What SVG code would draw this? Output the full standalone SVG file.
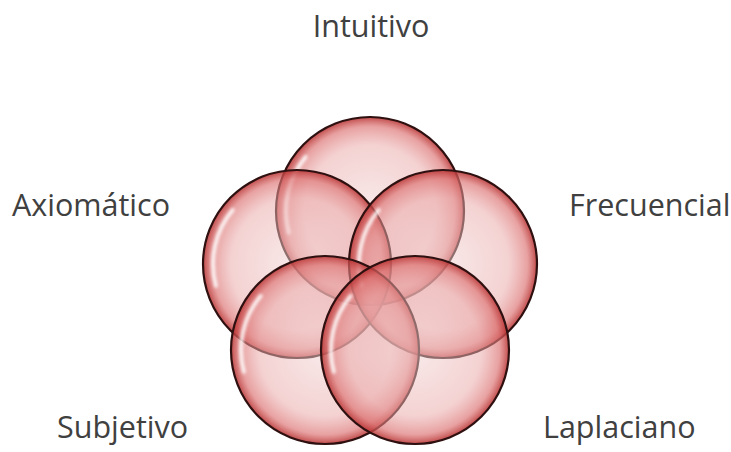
<svg xmlns="http://www.w3.org/2000/svg" width="731" height="452" viewBox="0 0 731 452">
<style>
.lbl{font-family:"Open Sans","Noto Sans","Liberation Sans",sans-serif;font-size:30.5px;fill:#404040}
.ring{fill:url(#glass);stroke:#2e1010;stroke-width:2.2}
.hl{fill:none;stroke:#ffffff;stroke-width:4;stroke-linecap:round;opacity:0.85;filter:url(#soft)}
</style>
<defs>
<radialGradient id="glass" cx="50%" cy="50%" r="50%">
<stop offset="0" stop-color="#f2d4d4" stop-opacity="0.5"/>
<stop offset="0.7" stop-color="#eaa8a8" stop-opacity="0.52"/>
<stop offset="0.9" stop-color="#dc7070" stop-opacity="0.66"/>
<stop offset="1" stop-color="#b83232" stop-opacity="0.88"/>
</radialGradient>
<filter id="soft" x="-20%" y="-20%" width="140%" height="140%">
<feGaussianBlur stdDeviation="1.5"/>
</filter>
<g id="bubble">
<circle class="ring" cx="0" cy="0" r="94"/>
<path class="hl" d="M -81.1 21.7 A 84 84 0 0 1 -64.3 -54"/>
</g>
</defs>
<g id="connectors"></g>
<g id="intuitivo">
<use href="#bubble" transform="translate(370,211)"/>
<text class="lbl" x="371" y="37" text-anchor="middle">Intuitivo</text>
</g>
<g id="axiomatico">
<use href="#bubble" transform="translate(297,264)"/>
<text class="lbl" x="12" y="216">Axiomático</text>
</g>
<g id="frecuencial">
<use href="#bubble" transform="translate(443,264)"/>
<text class="lbl" x="569" y="216">Frecuencial</text>
</g>
<g id="subjetivo">
<use href="#bubble" transform="translate(325,350)"/>
<text class="lbl" x="57" y="438">Subjetivo</text>
</g>
<g id="laplaciano">
<use href="#bubble" transform="translate(415,350)"/>
<text class="lbl" x="543" y="438">Laplaciano</text>
</g>
</svg>
